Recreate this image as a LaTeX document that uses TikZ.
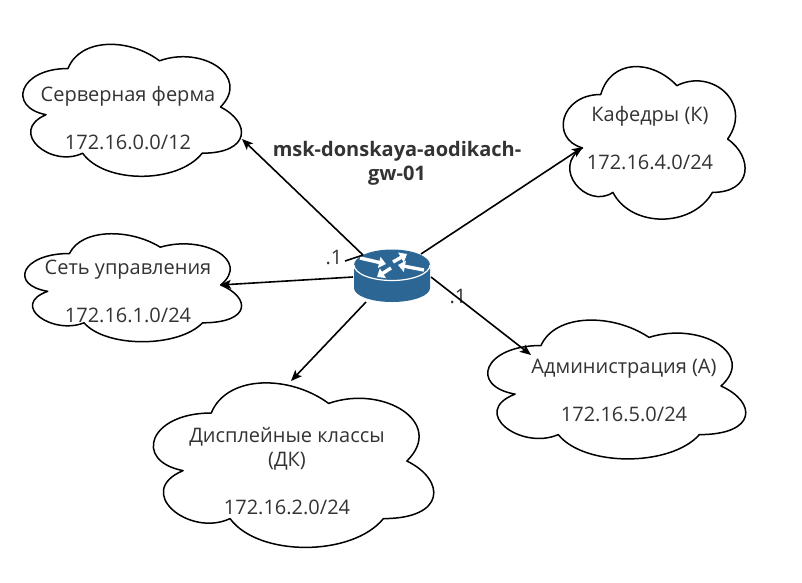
\documentclass[tikz,border=0pt]{standalone}
\usepackage{fontspec}
\setmainfont{Open Sans}
\usetikzlibrary{arrows.meta}

\definecolor{textgray}{HTML}{333333}
\definecolor{routerblue}{HTML}{2C6694}

\tikzset{
	cloudline/.style={draw=black, fill=white, line width=1.5pt, line join=round},
	nettext/.style={inner sep=0pt, align=center, text=textgray, font=\fontsize{20}{24}\selectfont},
	hosttext/.style={nettext, font=\fontsize{20}{24}\selectfont\bfseries},
	link/.style={draw=black, line width=1.6pt, -{Stealth[length=11pt,width=9pt,inset=2.5pt]}},
	flow/.style={draw=white, line width=3.4pt, -{Triangle[length=7pt,width=11pt]}},
}

% x, y, width, height of the cloud's frame
\newcommand{\netcloud}[4]{
	\draw[cloudline, shift={(#1,#2)}, x=#3pt, y=-#4pt]
		(0.25,0.25) .. controls (0.05,0.25) and (0,0.5) .. (0.16,0.55)
		.. controls (0,0.66) and (0.18,0.9) .. (0.31,0.8)
		.. controls (0.4,1) and (0.7,1) .. (0.8,0.8)
		.. controls (1,0.8) and (1,0.6) .. (0.875,0.5)
		.. controls (1,0.3) and (0.8,0.1) .. (0.625,0.2)
		.. controls (0.5,0.05) and (0.3,0.05) .. (0.25,0.25) -- cycle;
}

\begin{document}
\begin{tikzpicture}[x=1pt, y=-1pt]
	\useasboundingbox (0,0) rectangle (802,582);

	\netcloud{7}{30}{244}{154}
	\netcloud{9}{222}{242}{126}
	\netcloud{133}{365}{313}{192}
	\netcloud{550}{50}{203}{178}
	\netcloud{469}{305}{288}{162}

	\node[nettext] (ferma) at (128,118) {Серверная ферма\\[24pt]172.16.0.0/12};
	\node[nettext] (upravlenie) at (128,291.5) {Сеть управления\\[24pt]172.16.1.0/24};
	\node[nettext] (klassy) at (287,471) {Дисплейные классы\\(ДК)\\[24pt]172.16.2.0/24};
	\node[nettext] (kafedry) at (650,138.5) {Кафедры (К)\\[24pt]172.16.4.0/24};
	\node[nettext] (admin) at (624,390.5) {Администрация (А)\\[24pt]172.16.5.0/24};

	\node[hosttext] (host) at (397,163) {msk-donskaya-aodikach-\\gw-01};
	\node[nettext] (dot1) at (334,257) {.1};
	\node[nettext] (dot2) at (458,296) {.1};

	% router
	\path[fill=routerblue] (354,265) -- (354,288) arc[start angle=180, end angle=360, x radius=38pt, y radius=14pt]
		-- (430,265) arc[start angle=0, end angle=180, x radius=38pt, y radius=15.5pt] -- cycle;
	\draw[white, line width=1.2pt] (354,265) arc[start angle=180, end angle=360, x radius=38pt, y radius=15.5pt];
	\draw[flow] (360,258) -- (386,264);
	\draw[flow] (393,262) -- (407,254);
	\draw[flow] (424,270) -- (398,265);
	\draw[flow] (391,268) -- (377,277);
	\node[minimum width=76pt, minimum height=52pt, inner sep=0pt] (router) at (392,276) {};

	\coordinate (out-ferma) at (363,255);
	\coordinate (out-upravlenie) at (353,277);
	\coordinate (out-klassy) at (366,302);
	\coordinate (out-kafedry) at (421,254);
	\coordinate (out-admin) at (431,277);
	\coordinate (tick) at (345,261);

	\coordinate (in-ferma) at (242,139);
	\coordinate (in-upravlenie) at (220,285);
	\coordinate (in-klassy) at (291,381);
	\coordinate (in-kafedry) at (583,147);
	\coordinate (in-admin) at (531,355);

	\draw[link] (out-ferma) -- (in-ferma);
	\draw[link] (out-upravlenie) -- (in-upravlenie);
	\draw[link] (out-klassy) -- (in-klassy);
	\draw[link] (out-kafedry) -- (in-kafedry);
	\draw[link] (out-admin) -- (in-admin);
	\draw[line width=1.6pt] (tick) -- (out-ferma);
\end{tikzpicture}
\end{document}
